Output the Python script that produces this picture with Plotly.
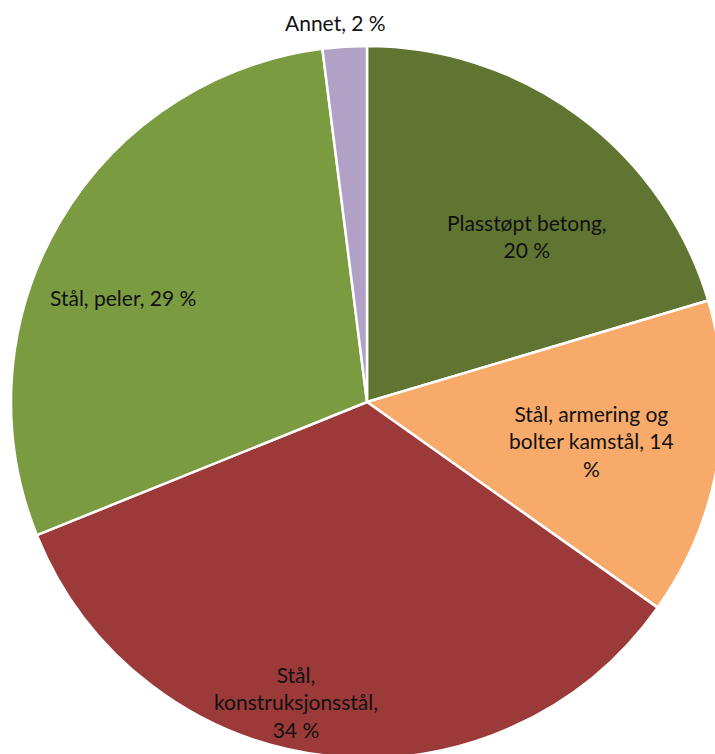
import math
import plotly.graph_objects as go

categories = ["Plasstøpt betong", "Stål, armering og bolter kamstål",
              "Stål, konstruksjonsstål", "Stål, peler", "Annet"]
values = [20.4, 14.4, 34.1, 29.1, 2.0]
shown_pct = [20, 14, 34, 29, 2]
label_text = [
    "Plasstøpt betong,<br>20 %",
    "Stål, armering og<br>bolter kamstål, 14<br>%",
    "Stål,<br>konstruksjonsstål,<br>34 %",
    "Stål, peler, 29 %",
    "Annet, 2 %",
]
colors = ["#607532", "#f8aa6b", "#9b3a38", "#7b9b41", "#b2a1c7"]

# label placement (polar around pie centre): angle clockwise from 12 o'clock, radius fraction
label_angle = [43.9, 99.9, 193.3, 293.1, 355.2]
label_rfrac = [0.648, 0.639, 0.866, 0.745, 1.071]

W, H = 734, 760
dom_x = [11 / W, 723 / W]
dom_y = [2 / H, 714 / H]

fig = go.Figure(go.Pie(
    labels=categories,
    values=values,
    textinfo="none",
    sort=False,
    direction="clockwise",
    rotation=0,
    marker=dict(colors=colors, line=dict(color="white", width=2.5)),
    showlegend=False,
    hoverinfo="label+percent",
    domain=dict(x=dom_x, y=dom_y),
    automargin=False,
))

# pie geometry in pixels
cx = (dom_x[0] + dom_x[1]) / 2 * W
cy = (dom_y[0] + dom_y[1]) / 2 * H
R = min((dom_x[1] - dom_x[0]) * W, (dom_y[1] - dom_y[0]) * H) / 2

for txt, a, rf in zip(label_text, label_angle, label_rfrac):
    ar = math.radians(a)
    px = cx + rf * R * math.sin(ar)
    py = cy + rf * R * math.cos(ar)
    fig.add_annotation(
        x=px / W, y=py / H, xref="paper", yref="paper",
        text=txt, showarrow=False, align="center",
        xanchor="center", yanchor="middle",
        font=dict(family="Lato, 'Open Sans', sans-serif", size=21, color="#111111"),
    )

fig.update_layout(
    width=W, height=H,
    margin=dict(l=0, r=0, t=0, b=0),
    paper_bgcolor="white",
    plot_bgcolor="white",
)

fig.write_html(
    "out.html",
    post_script="document.documentElement.style.overflow='hidden';document.body.style.overflow='hidden';document.body.style.margin='0';",
)
